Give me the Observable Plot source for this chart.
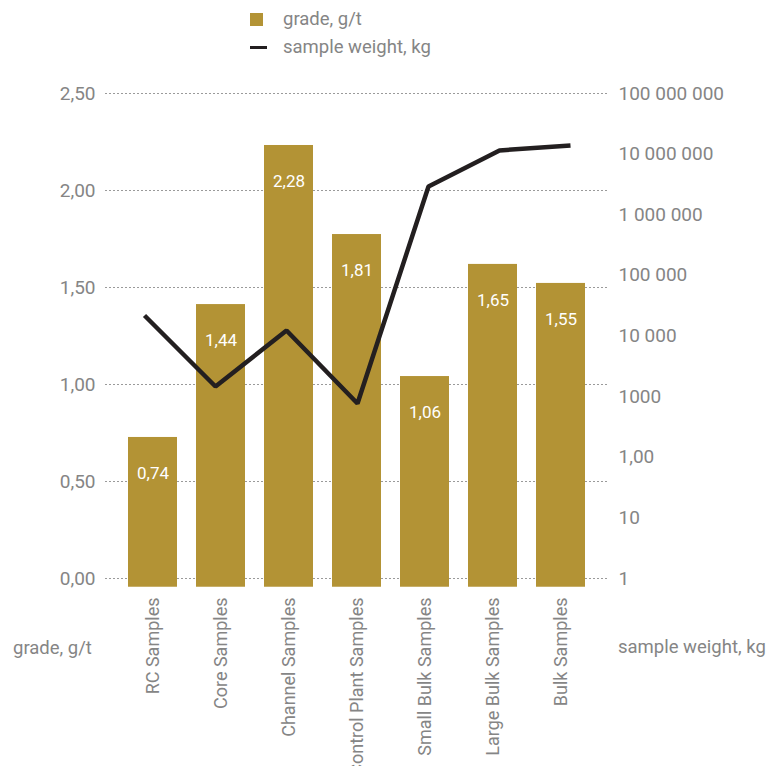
<!DOCTYPE html>
<html>
<head>
<meta charset="utf-8">
<script src="https://cdn.jsdelivr.net/npm/d3@7"></script>
<script src="https://cdn.jsdelivr.net/npm/@observablehq/plot@0.6"></script>
<style>
  body { margin: 0; background: #fff; }
  #wrap { position: relative; width: 781px; height: 766px; overflow: hidden; font-family: Roboto, sans-serif; color: #858585; }
  #wrap svg { position: absolute; left: 0; top: 0; }
  .lab { position: absolute; font-size: 18.5px; line-height: 19px; white-space: nowrap; color: #858585; }
</style>
</head>
<body>
<div id="wrap"></div>
<script>
// ---- data ----
const categories = ["RC Samples", "Core Samples", "Channel Samples", "Control Plant Samples", "Small Bulk Samples", "Large Bulk Samples", "Bulk Samples"];
const gradeLabels = [0.74, 1.44, 2.28, 1.81, 1.06, 1.65, 1.55];          // printed bar values, g/t
const barTops = [0.727, 1.412, 2.232, 1.773, 1.041, 1.619, 1.521];      // bar tops as drawn on the left axis
const barBase = -0.045;                                                   // bars start slightly below the 0 line
const sampleWeight = [21800, 1470, 12300, 770, 2930000, 11500000, 13900000]; // kg
const gradeTicks = [0, 0.5, 1, 1.5, 2, 2.5];
const weightTicks = [1, 10, 100, 1000, 1e4, 1e5, 1e6, 1e7, 1e8];
const weightTickLabels = ["1", "10", "1,00", "1000", "10 000", "100 000", "1 000 000", "10 000 000", "100 000 000"];

const data = categories.map((c, i) => ({cat: c, top: barTops[i], label: gradeLabels[i], weight: sampleWeight[i]}));
const fmtComma = d => d3.format(".2f")(d).replace(".", ",");

const W = 781, H = 766;
const common = {
  width: W, height: H,
  marginLeft: 105, marginRight: 173, marginTop: 93, marginBottom: 188
};
const xOpt = {domain: categories, paddingInner: 0.28, paddingOuter: 0.338, axis: null, label: null};
const styleOpt = {fontFamily: "Roboto, sans-serif", fontSize: "19px", color: "#858585", background: "transparent", overflow: "visible"};

const plot1 = Plot.plot({
  ...common,
  x: xOpt,
  y: {domain: [0, 2.5], axis: null, label: null},
  style: styleOpt,
  marks: [
    Plot.gridY(gradeTicks, {stroke: "#9a9a9a", strokeOpacity: 1, strokeWidth: 1, strokeDasharray: "2,2"}),
    Plot.axisY(gradeTicks, {tickSize: 0, tickPadding: 10, tickFormat: fmtComma, label: null}),
    Plot.barY(data, {x: "cat", y1: () => barBase, y2: "top", fill: "#b39335"}),
    Plot.text(data, {x: "cat", y: "top", text: d => fmtComma(d.label), dy: 36, fill: "white", fontSize: 17}),
    Plot.axisX({tickRotate: -90, tickSize: 0, tickPadding: 19, label: null, fontSize: 18})
  ]
});

const plot2 = Plot.plot({
  ...common,
  x: xOpt,
  y: {type: "log", domain: [1, 1e8], axis: null, label: null},
  style: styleOpt,
  marks: [
    Plot.line(data, {x: "cat", y: "weight", stroke: "#231f20", strokeWidth: 4.5, strokeLinejoin: "miter", strokeLinecap: "butt"}),
    Plot.axisY(weightTicks, {anchor: "right", tickSize: 0, tickPadding: 10, label: null,
      tickFormat: d => weightTickLabels[Math.round(Math.log10(d))]})
  ]
});

const wrap = document.getElementById("wrap");
wrap.appendChild(plot1);
wrap.appendChild(plot2);

function addDiv(html, css) {
  const d = document.createElement("div");
  d.className = "lab";
  d.style.cssText += css;
  d.innerHTML = html;
  wrap.appendChild(d);
}
// legend
addDiv("", "left:250px;top:13px;width:13px;height:13px;background:#b39335;");
addDiv("grade, g/t", "left:283px;top:10px;");
addDiv("", "left:250px;top:46px;width:17px;height:3px;background:#231f20;");
addDiv("sample weight, kg", "left:283px;top:38px;");
// axis titles
addDiv("grade, g/t", "left:13px;top:639px;");
addDiv("sample weight, kg", "left:618px;top:638px;");
</script>
</body>
</html>
